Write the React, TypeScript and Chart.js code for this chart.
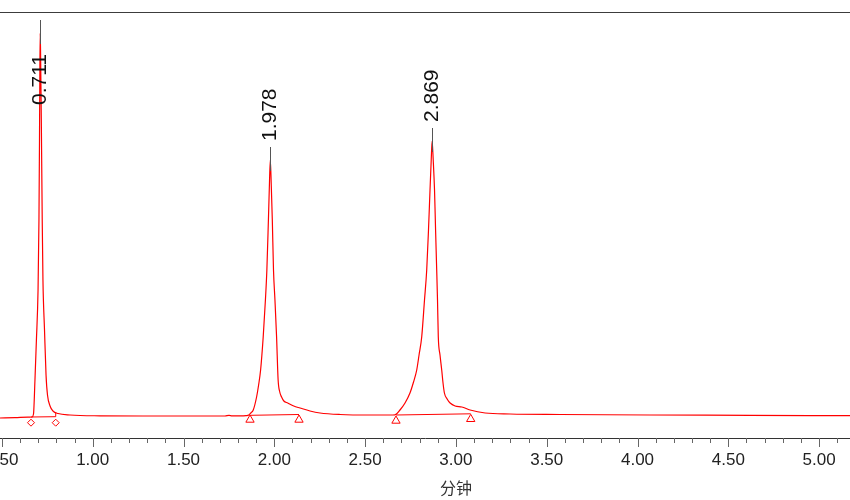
import React, { useEffect, useRef } from "react";
import { Chart, registerables } from "chart.js";

Chart.register(...registerables);

// Retention time axis (minutes)
const xMin = 0.4895;
const xMax = 5.17;
const majorTickValues = [0.5, 1.0, 1.5, 2.0, 2.5, 3.0, 3.5, 4.0, 4.5, 5.0];
const minorTickValues = [
  0.6, 0.7, 0.8, 0.9, 1.1, 1.2, 1.3, 1.4, 1.6, 1.7, 1.8, 1.9, 2.1, 2.2, 2.3, 2.4,
  2.6, 2.7, 2.8, 2.9, 3.1, 3.2, 3.3, 3.4, 3.6, 3.7, 3.8, 3.9, 4.1, 4.2, 4.3, 4.4,
  4.6, 4.7, 4.8, 4.9, 5.1,
];
const axisTitle = "分钟";
const axisTitleCenter = 3.0;

// Detector signal (arbitrary units)
const signalTimes = [
  0.4895, 0.572, 0.644, 0.666, 0.674, 0.682, 0.69, 0.699, 0.704, 0.707, 0.709, 0.711,
  0.7134, 0.717, 0.722, 0.726, 0.7346, 0.743, 0.751, 0.765, 0.781, 0.809, 0.875, 1.04,
  1.3155, 1.591, 1.7285, 1.7505, 1.767, 1.811,
  1.844, 1.8596, 1.8706, 1.884, 1.9024, 1.9135, 1.9245, 1.9388, 1.951, 1.959, 1.9675,
  1.973, 1.978, 1.9832, 1.989, 1.9955, 2.0035, 2.0125, 2.021, 2.03, 2.04, 2.0525, 2.074,
  2.107, 2.1415, 2.1966, 2.2517, 2.3618, 2.527, 2.637,
  2.6646, 2.692, 2.7197, 2.747, 2.7666, 2.7842, 2.797, 2.8116, 2.827, 2.8392, 2.849,
  2.8574, 2.864, 2.869, 2.875, 2.8822, 2.888, 2.8942, 2.8986, 2.903, 2.9124, 2.9218,
  2.929, 2.9366, 2.9515, 2.968, 2.9956, 3.0325, 3.078, 3.161, 3.298, 3.574, 4.0685,
  4.619, 5.17,
];
const signalValues = [
  -2, -1.7, -1.2, -1, 2, 36, 76, 126, 196, 276, 346, 383,
  356, 296, 196, 136, 86, 41, 21, 10, 5, 2.5, 1, 0.2,
  0, 0, 0, 0.7, 0.2, 0.2,
  0.4, 1, 3, 6, 19, 31, 46, 79, 116, 146, 196,
  231, 256, 231, 196, 146, 116, 79, 36, 24, 19, 15, 13,
  10, 8, 5, 3, 1.5, 1, 1,
  1.2, 6, 13, 23, 34, 46, 61, 79, 116, 146, 186,
  226, 256, 275, 256, 226, 186, 146, 116, 79, 61, 46,
  33, 23, 17, 13, 10, 9, 6, 3, 2, 1.5, 1,
  0.7, 0.3,
];

// Integration baselines (start / end of each peak)
const baselineSegments = [
  { times: [0.6602, 0.7963, 0.7963], values: [-1, -0.7, 3.6] },
  { times: [1.8662, 2.136], values: [0.7, 1.5] },
  { times: [2.67, 3.0815], values: [1, 2.2] },
];
const diamondTimes = [0.6602, 0.7963];
const diamondValues = [-6.7, -6.7];
const triangleTimes = [1.8662, 2.136, 2.67, 3.0815];
const triangleValues = [-3.8, -3.8, -4.8, -3.1];

// Peak annotations
const peakTimes = [0.711, 1.978, 2.869];
const peakHeights = [383, 256, 275];
const peakLabels = ["0.711", "1.978", "2.869"];

const yMin = -22;
const yMax = 404;

const RED = "#ff0000";

const decorPlugin = {
  id: "decor",
  afterDraw(chart: any) {
    const { ctx, chartArea, scales } = chart;
    const xs = scales.x;
    const ys = scales.y;
    ctx.save();
    // top frame line
    ctx.strokeStyle = "#3c3c3c";
    ctx.lineWidth = 1;
    ctx.beginPath();
    ctx.moveTo(0, chartArea.top + 0.5);
    ctx.lineTo(chart.width, chartArea.top + 0.5);
    ctx.stroke();

    // tick marks
    const axisY = chartArea.bottom;
    ctx.strokeStyle = "#666";
    ctx.beginPath();
    majorTickValues.forEach((v) => {
      const px = Math.round(xs.getPixelForValue(v)) + 0.5;
      ctx.moveTo(px, axisY);
      ctx.lineTo(px, axisY + 9);
    });
    minorTickValues.forEach((v) => {
      const px = Math.round(xs.getPixelForValue(v)) + 0.5;
      ctx.moveTo(px, axisY);
      ctx.lineTo(px, axisY + 5);
    });
    ctx.stroke();

    // axis title
    ctx.fillStyle = "#333";
    ctx.font = '16px "Noto Sans CJK SC"';
    ctx.textAlign = "center";
    ctx.textBaseline = "middle";
    ctx.fillText(axisTitle, xs.getPixelForValue(axisTitleCenter), 488);

    // peak labels
    ctx.font = '21px "Liberation Sans", Arial, sans-serif';
    peakTimes.forEach((t, i) => {
      const px = Math.round(xs.getPixelForValue(t)) + 0.5;
      const py = ys.getPixelForValue(peakHeights[i]);
      ctx.strokeStyle = "#555";
      ctx.lineWidth = 1;
      ctx.beginPath();
      ctx.moveTo(px, py - 13);
      ctx.lineTo(px, py + 11);
      ctx.stroke();
      const w = ctx.measureText(peakLabels[i]).width;
      let anchor = py - 13 - 6;
      if (anchor - w < chartArea.top + 38) anchor = chartArea.top + 42 + w;
      ctx.save();
      ctx.translate(px, anchor);
      ctx.rotate(-Math.PI / 2);
      ctx.fillStyle = "#111";
      ctx.textAlign = "left";
      ctx.textBaseline = "middle";
      ctx.fillText(peakLabels[i], 0, 0);
      ctx.restore();
    });
    ctx.restore();
  },
};

export default function App() {
  const ref = useRef<HTMLCanvasElement | null>(null);
  useEffect(() => {
    if (!ref.current) return;
    const datasets: any[] = [
      {
        data: signalTimes.map((t, i) => ({ x: t, y: signalValues[i] })),
        borderColor: RED,
        borderWidth: 1.2,
        pointRadius: 0,
        cubicInterpolationMode: "monotone",
        fill: false,
      },
      ...baselineSegments.map((s) => ({
        data: s.times.map((t, i) => ({ x: t, y: s.values[i] })),
        borderColor: RED,
        borderWidth: 1,
        pointRadius: 0,
        tension: 0,
        fill: false,
      })),
      {
        data: diamondTimes.map((t, i) => ({ x: t, y: diamondValues[i] })),
        showLine: false,
        pointStyle: "rectRot",
        pointRadius: 3.5,
        borderColor: RED,
        backgroundColor: "rgba(0,0,0,0)",
        borderWidth: 1,
      },
      {
        data: triangleTimes.map((t, i) => ({ x: t, y: triangleValues[i] })),
        showLine: false,
        pointStyle: "triangle",
        pointRadius: 4.8,
        borderColor: RED,
        backgroundColor: "rgba(0,0,0,0)",
        borderWidth: 1,
      },
    ];
    const chart = new Chart(ref.current, {
      type: "line",
      data: { datasets },
      options: {
        animation: false,
        responsive: false,
        devicePixelRatio: 1,
        layout: { autoPadding: false, padding: { top: 12, left: 0, right: 0, bottom: 0 } },
        plugins: { legend: { display: false }, tooltip: { enabled: false } },
        scales: {
          x: {
            type: "linear",
            min: xMin,
            max: xMax,
            position: "bottom",
            grid: { display: true, drawOnChartArea: false, drawTicks: false },
            border: { display: true, color: "#333", width: 1 },
            ticks: {
              stepSize: 0.5,
              includeBounds: false,
              autoSkip: false,
              maxRotation: 0,
              padding: 12,
              color: "#222",
              font: { family: '"Liberation Sans", Arial, sans-serif', size: 17 },
              callback: (v: any) => Number(v).toFixed(2),
            },
            afterFit: (scale: any) => {
              scale.height = 62;
              scale.paddingLeft = 0;
              scale.paddingRight = 0;
            },
          },
          y: { display: false, min: yMin, max: yMax },
        },
      } as any,
      plugins: [decorPlugin],
    });
    return () => chart.destroy();
  }, []);
  return (
    <div style={{ position: "fixed", left: 0, top: 0, width: 850, height: 500, background: "#fff" }}>
      <canvas ref={ref} width={850} height={500} />
    </div>
  );
}
